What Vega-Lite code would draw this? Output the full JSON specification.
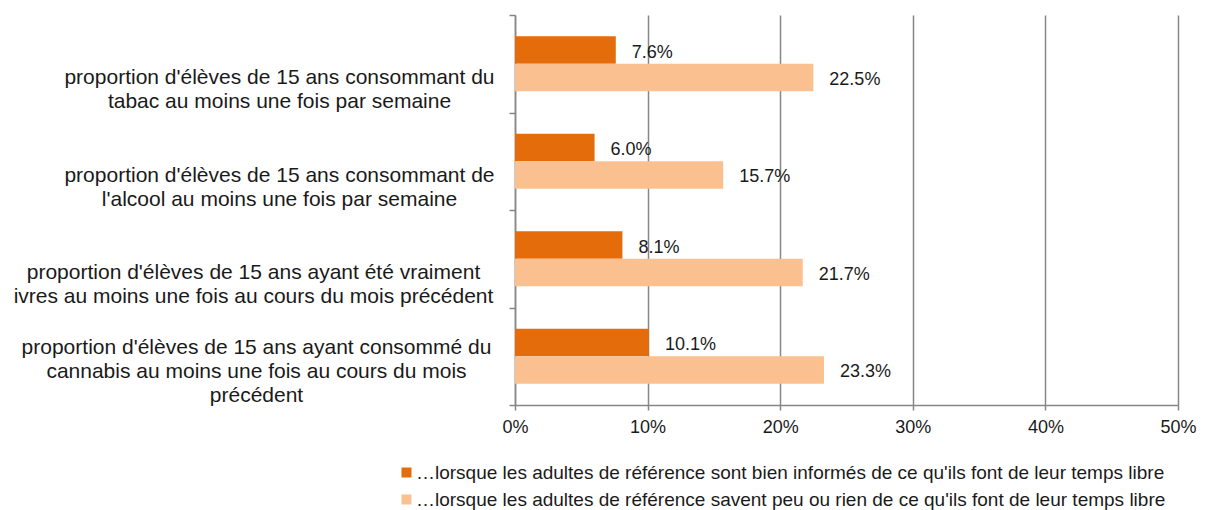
{
  "$schema": "https://vega.github.io/schema/vega-lite/v6.json",
  "width": 663,
  "height": 390,
  "autosize": {"type": "none"},
  "padding": {"left": 515, "top": 15, "right": 28, "bottom": 105},
  "config": {"font": "Liberation Sans", "view": {"stroke": null}},
  "data": {
    "values": [
      {"cat": "proportion d'élèves de 15 ans consommant du|tabac au moins une fois par semaine", "series": "…lorsque les adultes de référence sont bien informés de ce qu'ils font de leur temps libre", "value": 0.076},
      {"cat": "proportion d'élèves de 15 ans consommant du|tabac au moins une fois par semaine", "series": "…lorsque les adultes de référence savent peu ou rien de ce qu'ils font de leur temps libre", "value": 0.225},
      {"cat": "proportion d'élèves de 15 ans consommant de|l'alcool au moins une fois par semaine", "series": "…lorsque les adultes de référence sont bien informés de ce qu'ils font de leur temps libre", "value": 0.060},
      {"cat": "proportion d'élèves de 15 ans consommant de|l'alcool au moins une fois par semaine", "series": "…lorsque les adultes de référence savent peu ou rien de ce qu'ils font de leur temps libre", "value": 0.157},
      {"cat": "proportion d'élèves de 15 ans ayant été vraiment|ivres au moins une fois au cours du mois précédent", "series": "…lorsque les adultes de référence sont bien informés de ce qu'ils font de leur temps libre", "value": 0.081},
      {"cat": "proportion d'élèves de 15 ans ayant été vraiment|ivres au moins une fois au cours du mois précédent", "series": "…lorsque les adultes de référence savent peu ou rien de ce qu'ils font de leur temps libre", "value": 0.217},
      {"cat": "proportion d'élèves de 15 ans ayant consommé du|cannabis au moins une fois au cours du mois|précédent", "series": "…lorsque les adultes de référence sont bien informés de ce qu'ils font de leur temps libre", "value": 0.101},
      {"cat": "proportion d'élèves de 15 ans ayant consommé du|cannabis au moins une fois au cours du mois|précédent", "series": "…lorsque les adultes de référence savent peu ou rien de ce qu'ils font de leur temps libre", "value": 0.233}
    ]
  },
  "encoding": {
    "y": {
      "field": "cat",
      "type": "nominal",
      "sort": null,
      "scale": {"paddingInner": 0, "paddingOuter": 0},
      "axis": {
        "title": null,
        "tickBand": "extent",
        "domainColor": "#868686",
        "domainWidth": 1.5,
        "tickColor": "#868686",
        "tickWidth": 1.5,
        "tickSize": 6,
        "grid": false,
        "labelExpr": "split(datum.label, '|')",
        "labelFontSize": 21,
        "labelColor": "#1a1a1a",
        "labelAlign": "center",
        "labelBaseline": "top",
        "labelLineHeight": 24,
        "labelPadding": {
          "condition": [
            {"test": "datum.value === \"proportion d'élèves de 15 ans ayant été vraiment|ivres au moins une fois au cours du mois précédent\"", "value": 256},
            {"test": "datum.value === \"proportion d'élèves de 15 ans ayant consommé du|cannabis au moins une fois au cours du mois|précédent\"", "value": 253}
          ],
          "value": 230
        },
        "labelOffset": {
          "condition": {"test": "datum.value === \"proportion d'élèves de 15 ans ayant consommé du|cannabis au moins une fois au cours du mois|précédent\"", "value": -20},
          "value": 3
        },
        "labelLimit": 1000,
        "labelOverlap": false,
        "labelBound": false
      }
    },
    "yOffset": {
      "field": "series",
      "type": "nominal",
      "sort": null,
      "scale": {"paddingInner": 0, "paddingOuter": 0.773}
    },
    "x": {
      "field": "value",
      "type": "quantitative",
      "scale": {"domain": [0, 0.5]},
      "axis": {
        "title": null,
        "format": "%",
        "values": [0, 0.1, 0.2, 0.3, 0.4, 0.5],
        "grid": true,
        "gridColor": "#868686",
        "gridWidth": 1.5,
        "domainColor": "#868686",
        "domainWidth": 1.5,
        "tickColor": "#868686",
        "tickWidth": 1.5,
        "tickSize": 5,
        "labelFontSize": 18,
        "labelColor": "#1a1a1a",
        "labelPadding": 8,
        "labelFlush": false
      }
    }
  },
  "layer": [
    {
      "mark": {"type": "bar"},
      "encoding": {
        "color": {
          "field": "series",
          "type": "nominal",
          "sort": null,
          "scale": {"range": ["#E46C0A", "#FAC090"]},
          "legend": {
            "title": null,
            "orient": "none",
            "legendX": -118,
            "legendY": 448,
            "direction": "vertical",
            "symbolType": "square",
            "symbolSize": 100,
            "symbolStrokeWidth": 0,
            "labelFontSize": 19,
            "labelColor": "#1a1a1a",
            "labelLimit": 1000,
            "labelOffset": 0,
            "rowPadding": 7
          }
        }
      }
    },
    {
      "mark": {"type": "text", "align": "left", "dx": 16, "dy": 2.5, "fontSize": 18, "color": "#1a1a1a"},
      "encoding": {
        "text": {"field": "value", "type": "quantitative", "format": ".1%"}
      }
    }
  ]
}
